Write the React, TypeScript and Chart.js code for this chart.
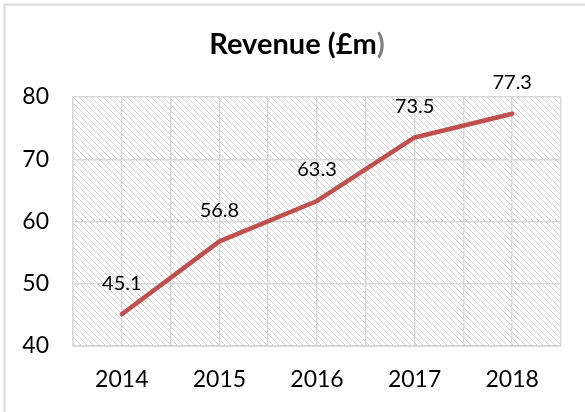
import React, { useEffect, useRef } from 'react';
import { Chart, registerables } from 'chart.js';

Chart.register(...registerables);

const categories = ['2014', '2015', '2016', '2017', '2018'];
const revenue = [45.1, 56.8, 63.3, 73.5, 77.3];
const yMin = 40;
const yMax = 80;
const yStep = 10;
const titleMain = 'Revenue (£m';
const titleEnd = ')';

const FONT = 'Lato, "Open Sans", sans-serif';

function makePattern(ctx: CanvasRenderingContext2D) {
  const c = document.createElement('canvas');
  c.width = 6;
  c.height = 6;
  const g = c.getContext('2d')!;
  g.fillStyle = '#d3d3d3';
  for (let i = 0; i < 6; i++) {
    g.fillRect(i, i, 1, 1);
  }
  return ctx.createPattern(c, 'repeat');
}

export default function App() {
  const ref = useRef<HTMLCanvasElement>(null);
  useEffect(() => {
    const canvas = ref.current!;
    const bgPlugin = {
      id: 'bgHatch',
      beforeDraw(chart: any) {
        const { ctx, chartArea: a } = chart;
        ctx.save();
        ctx.fillStyle = '#ffffff';
        ctx.fillRect(0, 0, chart.width, chart.height);
        const p = makePattern(ctx);
        if (p) {
          ctx.fillStyle = p;
          ctx.fillRect(a.left, a.top, a.right - a.left, a.bottom - a.top);
        }
        ctx.restore();
      },
      afterDraw(chart: any) {
        const { ctx } = chart;
        ctx.save();
        ctx.strokeStyle = '#d9d9d9';
        ctx.lineWidth = 2;
        ctx.strokeRect(4.5, 4.5, 800, 800);
        // title
        ctx.font = 'bold 29px ' + FONT;
        ctx.textBaseline = 'alphabetic';
        const w1 = ctx.measureText(titleMain).width;
        const w2 = ctx.measureText(titleEnd).width;
        const x0 = 297 - (w1 + w2) / 2;
        ctx.textAlign = 'left';
        ctx.fillStyle = '#000000';
        ctx.fillText(titleMain, x0, 54);
        ctx.fillStyle = '#7f7f7f';
        ctx.fillText(titleEnd, x0 + w1, 54);
        ctx.restore();
      },
      afterDatasetsDraw(chart: any) {
        const { ctx } = chart;
        const meta = chart.getDatasetMeta(0);
        ctx.save();
        ctx.font = '20px ' + FONT;
        ctx.fillStyle = '#000000';
        ctx.textAlign = 'center';
        ctx.textBaseline = 'middle';
        meta.data.forEach((pt: any, i: number) => {
          ctx.fillText(revenue[i].toFixed(1), pt.x, pt.y - 31);
        });
        ctx.restore();
      },
    };
    const chart = new Chart(canvas, {
      type: 'line',
      data: {
        datasets: [
          {
            data: revenue.map((v, i) => ({ x: i, y: v })),
            borderColor: '#c0504d',
            borderWidth: 4.5,
            borderCapStyle: 'round',
            borderJoinStyle: 'round',
            pointRadius: 0,
            pointHoverRadius: 0,
            fill: false,
            tension: 0,
          },
        ],
      },
      options: {
        responsive: false,
        animation: false,
        devicePixelRatio: 1,
        layout: { padding: { left: 0, right: 24, top: 97, bottom: 0 } },
        plugins: {
          legend: { display: false },
          title: { display: false },
          tooltip: { enabled: false },
        },
        scales: {
          x: {
            type: 'linear',
            min: -0.5,
            max: 4.5,
            afterFit(scale: any) {
              scale.height = 66;
            },
            ticks: {
              stepSize: 0.5,
              autoSkip: false,
              maxRotation: 0,
              padding: 20,
              color: '#000000',
              font: { family: FONT, size: 23 },
              callback: (v: any) => {
                const n = Number(v);
                return Number.isInteger(n) ? categories[n] : '';
              },
            },
            grid: { color: '#d9d9d9', lineWidth: 1.5, drawTicks: false },
            border: { display: true, color: '#d0d0d0', width: 1.5 },
          },
          y: {
            min: yMin,
            max: yMax,
            afterFit(scale: any) {
              scale.width = 73;
            },
            ticks: {
              stepSize: yStep,
              padding: 24,
              color: '#000000',
              font: { family: FONT, size: 23 },
            },
            grid: { color: '#d9d9d9', lineWidth: 1.5, drawTicks: false },
            border: { display: true, color: '#d9d9d9', width: 1.5 },
          },
        },
      },
      plugins: [bgPlugin],
    } as any);
    return () => chart.destroy();
  }, []);
  return (
    <div style={{ position: 'absolute', left: 0, top: 0, width: 585, height: 412 }}>
      <canvas ref={ref} width={585} height={412} style={{ display: 'block', width: 585, height: 412 }} />
    </div>
  );
}
